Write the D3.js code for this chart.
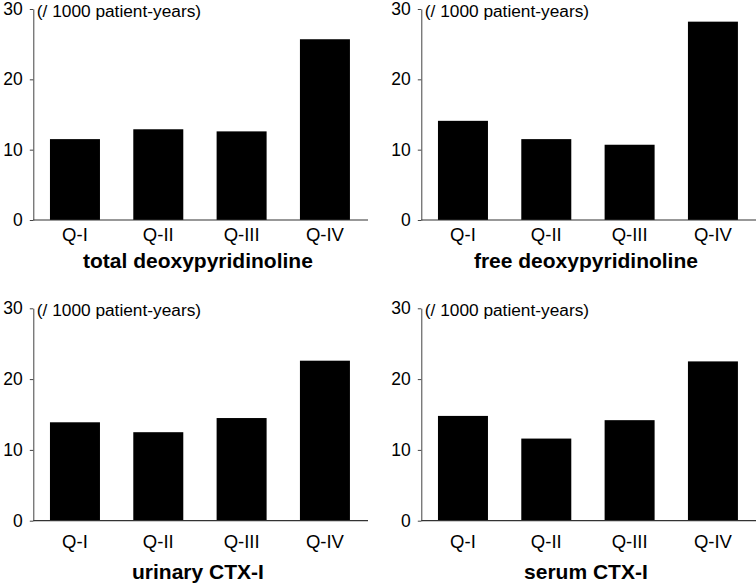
<!DOCTYPE html>
<html><head><meta charset="utf-8">
<script src="https://cdn.jsdelivr.net/npm/d3@7"></script>
<style>
body{margin:0;background:#fff;}
svg{display:block;font-family:"Liberation Sans",Arial,sans-serif;}
</style></head>
<body><svg id="c" width="756" height="587"></svg>
<script>
const categories = ["Q-I","Q-II","Q-III","Q-IV"];
const titles = ["total deoxypyridinoline","free deoxypyridinoline","urinary CTX-I","serum CTX-I"];
const totalDpd = [11.5, 12.9, 12.6, 25.7];
const freeDpd = [14.1, 11.5, 10.7, 28.2];
const urinaryCtx = [13.9, 12.5, 14.5, 22.6];
const serumCtx = [14.8, 11.6, 14.2, 22.5];
const yTicks = [0, 10, 20, 30];
const unitLabel = "(/ 1000 patient-years)";

const seriesList = [totalDpd, freeDpd, urinaryCtx, serumCtx];

// panel layout
const panels = [
  {ax: 33.3, top: 9, bottom: 220, xEnd: 368, labPad: 8, titleY: 268},
  {ax: 421.3, top: 9, bottom: 220, xEnd: 756, labPad: 8, titleY: 268},
  {ax: 33.3, top: 308.3, bottom: 520.7, xEnd: 368, labPad: 14.5, titleY: 579},
  {ax: 421.3, top: 308.3, bottom: 520.7, xEnd: 756, labPad: 14.5, titleY: 579}
];

const svg = d3.select("#c");

panels.forEach((p, i) => {
  const data = seriesList[i];
  const g = svg.append("g");
  const x = d3.scaleBand().domain(categories)
    .range([p.ax, p.ax + 333.3]).paddingInner(0.4).paddingOuter(0.2);
  const y = d3.scaleLinear().domain([0, 30]).range([p.bottom, p.top]);

  g.selectAll("rect").data(data).enter().append("rect")
    .attr("x", (d, j) => x(categories[j]))
    .attr("width", x.bandwidth())
    .attr("y", d => y(d))
    .attr("height", d => y(0) - y(d))
    .attr("fill", "#000");

  // y axis
  const ya = g.append("g").attr("transform", `translate(${p.ax},0)`)
    .call(d3.axisLeft(y).tickValues(yTicks).tickSize(3.5).tickSizeOuter(0).tickPadding(7));
  ya.select(".domain").attr("stroke", "#444");
  ya.selectAll(".tick line").attr("stroke", "#444");
  ya.selectAll("text").attr("font-size", 17.5).attr("fill", "#000")
    .attr("font-family", "Liberation Sans, Arial, sans-serif");

  // x axis
  const xa = g.append("g").attr("transform", `translate(0,${p.bottom})`)
    .call(d3.axisBottom(x).tickSize(0).tickPadding(p.labPad));
  xa.select(".domain").attr("d", `M${p.ax},0H${p.xEnd}`).attr("stroke", "#333").attr("stroke-width", 1.2);
  xa.selectAll("text").attr("font-size", 18.5).attr("fill", "#000")
    .attr("font-family", "Liberation Sans, Arial, sans-serif");

  g.append("text").attr("x", p.ax + 3.5).attr("y", p.top + 7.5)
    .attr("font-size", 17.3).attr("fill", "#000").text(unitLabel);

  g.append("text").attr("x", (x.range()[0] + x.range()[1]) / 2 - 2).attr("y", p.titleY)
    .attr("text-anchor", "middle").attr("font-size", 21).attr("font-weight", "bold")
    .attr("fill", "#000").text(titles[i]);
});
</script></body></html>
